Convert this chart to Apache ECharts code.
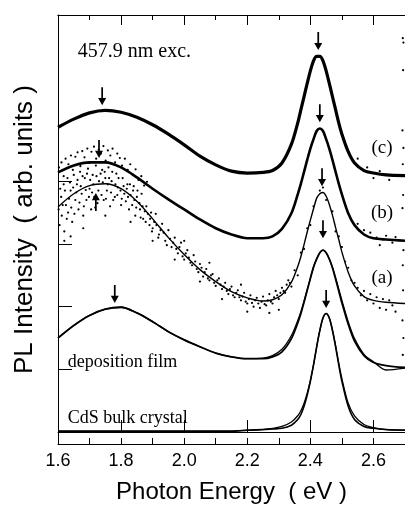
<!DOCTYPE html>
<html>
<head>
<meta charset="utf-8">
<script src="https://cdn.jsdelivr.net/npm/echarts@6.0.0/dist/echarts.min.js"></script>
<style>
html,body{margin:0;padding:0;background:#fff;}
#chart{width:405px;height:509px;}
</style>
</head>
<body>
<div id="chart"></div>
<script>
// Photon energy grid (eV)
const energy = [1.60,1.65,1.70,1.75,1.80,1.85,1.90,1.95,2.00,2.05,2.10,2.15,2.20,2.25,
  2.28,2.31,2.34,
  2.36,2.37,2.38,2.39,2.40,2.41,2.42,2.43,2.44,2.45,2.46,2.47,2.48,2.49,2.50,
  2.52,2.54,2.57,2.60,2.64,2.70];

// Spectra (arb. units, each offset by one unit)
const curveC = [4.86,4.99,5.09,5.13,5.10,5.02,4.90,4.75,4.58,4.40,4.26,4.16,4.13,4.14,
  4.17,4.29,4.59,
  4.93,5.14,5.35,5.56,5.76,5.92,5.99,5.99,5.92,5.76,5.56,5.35,5.14,4.93,4.75,
  4.47,4.29,4.17,4.13,4.10,4.09];
const curveB = [4.14,4.25,4.30,4.30,4.22,4.06,3.88,3.71,3.55,3.39,3.25,3.15,3.09,3.09,
  3.12,3.24,3.49,
  3.79,3.96,4.15,4.34,4.52,4.67,4.80,4.84,4.80,4.67,4.52,4.34,4.15,3.96,3.79,
  3.49,3.30,3.15,3.09,3.07,3.05];
const curveA = [3.59,3.80,3.93,3.96,3.88,3.68,3.40,3.10,2.83,2.59,2.40,2.24,2.14,2.09,
  2.11,2.19,2.39,
  2.64,2.80,2.99,3.19,3.38,3.56,3.73,3.80,3.82,3.76,3.63,3.46,3.26,3.07,2.87,
  2.55,2.33,2.16,2.10,2.07,2.05];
const depFit = [1.50,1.70,1.86,1.96,1.99,1.90,1.76,1.60,1.47,1.36,1.26,1.20,1.17,1.17,
  1.20,1.28,1.49,
  1.74,1.89,2.07,2.26,2.45,2.63,2.76,2.86,2.90,2.86,2.76,2.62,2.44,2.25,2.06,
  1.72,1.45,1.22,1.11,1.06,1.03];
const depData = [1.50,1.70,1.86,1.96,1.99,1.90,1.76,1.60,1.47,1.36,1.26,1.20,1.17,1.18,
  1.22,1.32,1.54,
  1.78,1.92,2.09,2.27,2.45,2.63,2.76,2.86,2.90,2.86,2.76,2.63,2.46,2.28,2.10,
  1.76,1.49,1.24,1.12,0.99,1.02];
const bulkFit = [0.01,0.01,0.01,0.01,0.01,0.01,0.01,0.01,0.01,0.01,0.01,0.01,0.03,0.04,
  0.05,0.06,0.11,
  0.20,0.28,0.41,0.59,0.81,1.07,1.36,1.62,1.82,1.89,1.82,1.62,1.36,1.07,0.81,
  0.41,0.20,0.09,0.06,0.04,0.03];
const bulkData = [0.02,0.02,0.02,0.02,0.02,0.02,0.02,0.02,0.02,0.02,0.02,0.02,0.03,0.04,
  0.06,0.09,0.16,
  0.26,0.34,0.46,0.62,0.82,1.07,1.36,1.62,1.82,1.89,1.82,1.63,1.38,1.10,0.85,
  0.46,0.26,0.12,0.07,0.04,0.03];

// Scattered measured points of spectrum (a) (estimated from the figure)
const dotsA = [[1.605,3.30],[1.61,3.75],[1.612,3.45],[1.618,3.95],[1.62,3.20],[1.625,3.62],[1.63,4.05],[1.632,3.50],
  [1.64,3.85],[1.645,3.35],[1.65,4.10],[1.655,3.70],[1.66,3.95],[1.665,3.55],[1.67,4.15],[1.675,3.80],[1.68,3.45],
  [1.685,4.05],[1.69,3.70],[1.695,4.20],[1.70,3.88],[1.705,3.55],[1.71,4.10],[1.715,3.75],[1.72,4.25],[1.725,3.65],
  [1.73,4.00],[1.74,4.18],[1.745,3.70],[1.75,4.05],[1.755,3.85],[1.76,4.22],[1.765,3.60],[1.77,4.00],[1.78,3.75],
  [1.785,4.12],[1.79,3.90],[1.80,3.62],[1.805,4.05],[1.81,3.80],[1.82,3.95],[1.825,3.55],[1.83,3.78],[1.84,3.92],
  [1.845,3.45],[1.85,3.75],[1.86,3.55],[1.865,3.80],[1.87,3.40],[1.88,3.60],[1.89,3.30],[1.895,3.50],[1.90,3.25],
  [1.91,3.48],[1.92,3.15],[1.93,3.32],[1.94,3.05],[1.95,3.22],[1.96,2.95],[1.97,3.10],[1.98,2.85],[1.99,3.02],
  [2.00,2.75],[2.01,2.90],[2.02,2.70],[2.03,2.82],[2.04,2.60],[2.05,2.68],[2.06,2.48],[2.07,2.60],[2.08,2.42],
  [2.09,2.52],[2.10,2.33],[2.11,2.45],[2.12,2.28],[2.13,2.38],[2.14,2.20],[2.15,2.32],[2.16,2.15],[2.17,2.26],
  [2.18,2.10],[2.19,2.22],[2.20,2.05],[2.21,2.18],[2.22,2.00],[2.23,2.14],[2.24,1.98],[2.25,2.16],[2.26,2.02],
  [2.27,2.20],[2.28,2.05],[2.29,2.25],[2.30,2.12],[2.31,2.30],[2.32,2.22],[2.33,2.42],[2.34,2.32],[2.35,2.58],
  [2.36,2.50],[2.37,2.86],[2.38,2.92],[2.39,3.25],[2.40,3.30],[2.41,3.60],[2.43,3.85],[2.44,3.90],[2.45,3.70],
  [2.47,3.52],[2.48,3.20],[2.49,3.12],[2.50,2.95],[2.51,2.72],[2.52,2.62],[2.53,2.42],[2.54,2.38],[2.55,2.30],
  [2.56,2.18],[2.57,2.25],[2.58,2.10],[2.59,2.20],[2.60,2.05],[2.61,2.15],[2.62,1.98],[2.63,2.12],[2.64,1.95],
  [2.65,2.10],[2.66,2.02],[2.67,1.92],
  [1.602,3.55],[1.607,3.88],[1.615,3.62],[1.622,3.85],[1.628,3.40],[1.635,3.72],[1.638,3.98],[1.642,3.58],
  [1.648,3.90],[1.652,3.48],[1.658,3.82],[1.662,4.02],[1.668,3.66],[1.672,3.92],[1.678,4.08],[1.682,3.60],
  [1.688,3.86],[1.692,4.12],[1.698,3.75],[1.702,4.02],[1.708,3.82],[1.712,3.95],[1.718,3.58],[1.722,4.08],
  [1.728,3.85],[1.735,4.12],[1.738,3.78],[1.742,3.98],[1.748,4.15],[1.752,3.72],[1.758,3.95],[1.762,4.05],
  [1.768,3.82],[1.772,4.15],[1.775,3.70],[1.782,3.95],[1.788,3.78],[1.792,4.05],[1.798,3.85],[1.802,3.72],
  [1.808,3.92],[1.815,3.68],[1.818,3.88],[1.822,3.75],[1.828,3.95],[1.835,3.62],[1.838,3.85],[1.842,3.70],
  [1.848,3.58],[1.852,3.85],[1.858,3.65],[1.862,3.42],[1.868,3.60],[1.875,3.52],[1.878,3.35],[1.885,3.48],
  [1.892,3.40],[1.898,3.20],[1.905,3.35],[1.912,3.30],[1.918,3.10],[1.925,3.22],[1.935,3.18],[1.945,2.98],
  [1.955,3.08],[1.965,3.02],[1.975,2.92],[1.985,2.95],[1.995,2.80],[2.005,2.85],[2.015,2.78],[2.025,2.66],
  [2.035,2.72],[2.045,2.55],[2.055,2.62],[2.065,2.55],[2.075,2.45],[2.085,2.50],[2.095,2.38],[2.105,2.42],
  [2.115,2.35],[2.125,2.32],[2.135,2.25],[2.145,2.28],[2.155,2.18],[2.165,2.22],[2.175,2.15],[2.185,2.16],
  [2.195,2.08],[2.205,2.12],[2.215,2.06],[2.225,2.10],[2.235,2.05],[2.245,2.08],[2.255,2.04],[2.265,2.10],
  [2.275,2.08],[2.285,2.15],[2.295,2.18],[2.305,2.22],[2.315,2.25],[2.325,2.35],[2.335,2.38],
  [1.62,3.05],[1.64,3.12],[1.68,3.25],[1.75,3.45],[1.83,3.35],[1.90,3.05],[1.97,2.75],[2.05,2.40],[2.12,2.12],
  [2.20,1.92],[2.27,1.90],[2.30,1.95],[2.00,3.05],[2.08,2.70],[2.18,2.35]];
// Scattered points of spectrum (b)
const dotsB = [[1.603,4.22],[1.611,4.30],[1.618,4.08],[1.624,4.36],[1.633,4.27],[1.641,4.41],[1.647,4.18],
  [1.655,4.39],[1.662,4.46],[1.671,4.24],[1.677,4.48],[1.684,4.38],[1.693,4.52],[1.699,4.29],[1.706,4.47],
  [1.714,4.55],[1.721,4.36],[1.729,4.50],[1.736,4.44],[1.744,4.56],[1.751,4.33],[1.758,4.49],[1.766,4.41],
  [1.773,4.52],[1.781,4.30],[1.788,4.44],[1.796,4.37],[1.803,4.25],[1.812,4.36],[1.821,4.18],[1.829,4.27],
  [1.838,4.10],[1.846,4.19],[1.855,4.02],[1.864,4.08],[1.873,3.93],[1.882,3.99],
  [2.55,3.32],[2.57,3.22],[2.59,3.18],[2.61,3.10],[2.62,2.98],[2.64,3.13],[2.66,3.02],[2.67,3.11]];
// Isolated points near the high-energy edge
const dotsEdge = [[2.693,6.28],[2.695,6.21],[2.694,5.77],[2.692,4.81],[2.695,4.53],[2.693,4.27],[2.694,3.78],
  [2.692,3.57],[2.695,2.90],[2.693,2.66],[2.694,2.26],[2.692,1.78],[2.695,1.50],[2.693,1.23],
  [2.55,4.36],[2.58,4.22],[2.62,4.16],[2.65,4.02],[2.60,4.05]];

// Peak markers: [energy, level of arrow tip]
const arrowsDown = [[1.74,5.21],[2.425,6.09],[1.73,4.37],[2.43,4.94],[2.437,3.92],[1.78,2.06],[2.44,3.09],[2.45,1.98]];
const arrowsUp = [[1.72,3.81]];

// Text annotations: [text, energy, level, anchor, size]
const notes = [
  ['457.9 nm exc.', 1.6625, 6.06, 'left', 20],
  ['(c)', 2.627, 4.53, 'center', 19],
  ['(b)', 2.627, 3.49, 'center', 19],
  ['(a)', 2.627, 2.45, 'center', 19],
  ['deposition film', 1.631, 1.12, 'left', 18],
  ['CdS bulk crystal', 1.631, 0.22, 'left', 18]
];
const zeroLevels = [0, 1, 2, 3, 4];

const pair = arr => energy.map((e, i) => [e, arr[i]]);
const lineS = (arr, w) => ({
  type: 'line', data: pair(arr), smooth: 0.3, symbol: 'none',
  lineStyle: {color: '#000', width: w, opacity: 1}, silent: true, z: 3
});
const dotS = (arr) => ({
  type: 'scatter', data: arr, symbol: 'circle', symbolSize: 2.2,
  itemStyle: {color: '#000', opacity: 1}, silent: true, z: 2
});
const arrowPath = 'path://M8.5,0 L11.5,0 L11.5,24 L17,24 L10,40 L3,24 L8.5,24 Z';
const serif = 'Liberation Serif';
const sans = 'Liberation Sans';

const xBase = {type: 'value', min: 1.6, max: 2.7, splitLine: {show: false},
  axisLine: {lineStyle: {color: '#000', width: 1}}};

const option = {
  animation: false,
  backgroundColor: '#fff',
  grid: {left: 58, right: 0, top: 15, bottom: 65, containLabel: false},
  xAxis: [
    Object.assign({}, xBase, {position: 'bottom', interval: 0.2,
      axisTick: {inside: true, length: 12, lineStyle: {color: '#000'}},
      axisLabel: {fontFamily: sans, fontSize: 18, color: '#000', margin: 8, showMaxLabel: false,
        formatter: v => v.toFixed(1)},
      name: 'Photon Energy  ( eV )', nameLocation: 'middle', nameGap: 36,
      nameTextStyle: {fontFamily: sans, fontSize: 24, color: '#000'}}),
    Object.assign({}, xBase, {position: 'bottom', interval: 0.1,
      axisTick: {inside: true, length: 6, lineStyle: {color: '#000'}},
      axisLabel: {show: false}}),
    Object.assign({}, xBase, {position: 'top', interval: 0.2,
      axisTick: {inside: true, length: 10, lineStyle: {color: '#000'}},
      axisLabel: {show: false}}),
    Object.assign({}, xBase, {position: 'top', interval: 0.1,
      axisTick: {inside: true, length: 5, lineStyle: {color: '#000'}},
      axisLabel: {show: false}})
  ],
  yAxis: {
    type: 'value', min: -0.19, max: 6.65,
    splitLine: {show: false},
    axisLine: {show: true, lineStyle: {color: '#000', width: 1}},
    axisTick: {show: true, inside: true, length: 14, customValues: zeroLevels, lineStyle: {color: '#000'}},
    axisLabel: {show: false},
    name: 'PL Intensity  ( arb. units )', nameLocation: 'middle', nameGap: 20,
    nameTextStyle: {fontFamily: sans, fontSize: 26, color: '#000'}
  },
  series: [
    dotS(dotsA), dotS(dotsB), dotS(dotsEdge),
    lineS(curveC, 3.2), lineS(curveB, 2.6), lineS(curveA, 1.4),
    lineS(depData, 1.3), lineS(depFit, 1.8),
    lineS(bulkData, 1.3), lineS(bulkFit, 1.6),
    {type: 'scatter', data: arrowsDown, symbol: arrowPath, symbolSize: [8, 18],
      symbolOffset: [0, -9], itemStyle: {color: '#000', opacity: 1}, silent: true, z: 5},
    {type: 'scatter', data: arrowsUp, symbol: arrowPath, symbolSize: [8, 18], symbolRotate: 180,
      symbolOffset: [0, 9], itemStyle: {color: '#000', opacity: 1}, silent: true, z: 5},
    {type: 'scatter', symbolSize: 0, silent: true, z: 6, itemStyle: {opacity: 1},
      data: notes.map(n => ({value: [n[1], n[2]], label: {
        show: true, formatter: n[0], position: n[3] === 'left' ? 'right' : 'inside', distance: 0,
        fontFamily: serif, fontSize: n[4], color: '#000', opacity: 1}}))}
  ]
};
const chart = echarts.init(document.getElementById('chart'), null, {renderer: 'canvas'});
chart.setOption(option);
</script>
</body>
</html>
